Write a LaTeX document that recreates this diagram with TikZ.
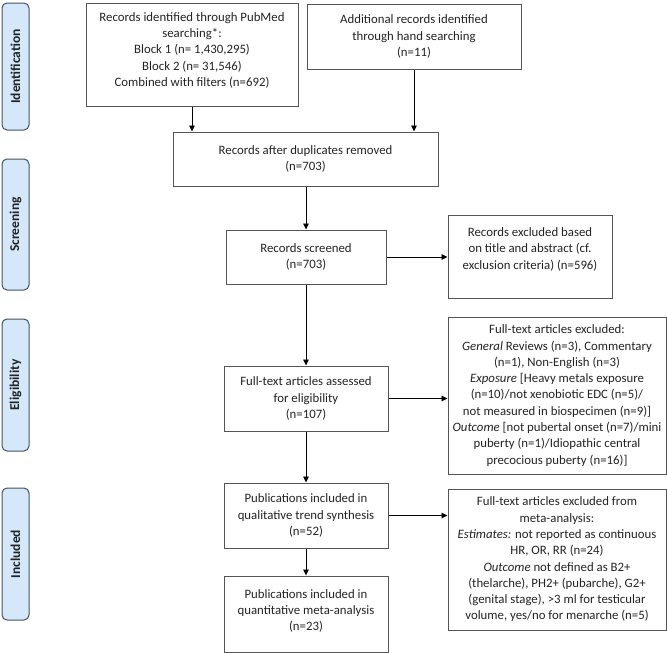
\documentclass[tikz,border=0pt]{standalone}
\usepackage{fontspec}
\setmainfont{Carlito}
\usetikzlibrary{arrows.meta}
\definecolor{boxline}{RGB}{85,85,85}
\definecolor{tabfill}{RGB}{212,232,250}
\definecolor{tabline}{RGB}{70,80,95}
\definecolor{txt}{RGB}{35,35,35}
\begin{document}
\begin{tikzpicture}[x=1pt,y=-1pt,
 box/.style={draw=boxline,line width=1pt,align=center,inner sep=0pt,font=\fontsize{12.8}{16.3}\selectfont,text=txt},
 tab/.style={draw=tabline,fill=tabfill,rounded corners=5pt,line width=1pt,minimum height=27pt,rotate=90,font=\bfseries\fontsize{13.5}{15}\selectfont,inner sep=0pt,text=txt},
 arr/.style={-{Triangle[length=6pt,width=5.5pt]},line width=0.9pt,black}]
\useasboundingbox (0,0) rectangle (667,653);
\node[tab,minimum width=127pt] (idtab) at (15.5,66.5) {Identification};
\node[tab,minimum width=131pt] (sctab) at (15.5,224.5) {Screening};
\node[tab,minimum width=132pt] (eltab) at (15.5,385) {Eligibility};
\node[tab,minimum width=132pt] (intab) at (15.5,554) {Included};

\node[box,minimum width=212pt,minimum height=103pt] (b1) at (192,54.5) {Records identified through PubMed\\searching*:\\Block 1 (n= 1,430,295)\\Block 2 (n= 31,546)\\Combined with filters (n=692)\\[-6pt]\mbox{}};
\node[box,minimum width=214pt,minimum height=65pt] (b2) at (414,36.5) {Additional records identified\\through hand searching\\(n=11)};
\node[box,minimum width=265pt,minimum height=54pt] (dup) at (305.5,159) {Records after duplicates removed\\(n=703)};
\node[box,minimum width=160pt,minimum height=54pt] (scr) at (306,257) {Records screened\\(n=703)};
\node[box,minimum width=164pt,minimum height=83pt] (ex1) at (530,256.5) {Records excluded based\\on title and abstract (cf.\\exclusion criteria) (n=596)\\~};
\node[box,minimum width=164pt,minimum height=65pt] (ft) at (306,398.5) {Full-text articles assessed\\for eligibility\\(n=107)};
\node[box,minimum width=218pt,minimum height=157pt] (ex2) at (557,395.5) {Full-text articles excluded:\\\textit{General} Reviews (n=3), Commentary\\(n=1), Non-English (n=3)\\\textit{Exposure} [Heavy metals exposure\\(n=10)/not xenobiotic EDC (n=5)/\\not measured in biospecimen (n=9)]\\\textit{Outcome} [not pubertal onset (n=7)/mini\\puberty (n=1)/Idiopathic central\\precocious puberty (n=16)]};
\node[box,minimum width=164pt,minimum height=65pt] (qual) at (306,515.5) {Publications included in\\qualitative trend synthesis\\(n=52)};
\node[box,minimum width=164pt,minimum height=76pt] (quant) at (306,614) {Publications included in\\quantitative meta-analysis\\(n=23)\\[-8pt]\mbox{}};
\node[box,minimum width=218pt,minimum height=141pt] (ex3) at (557,559.5) {Full-text articles excluded from\\meta-analysis:\\\textit{Estimates:} not reported as continuous\\HR, OR, RR (n=24)\\\textit{Outcome} not defined as B2+\\(thelarche), PH2+ (pubarche), G2+\\(genital stage), >3 ml for testicular\\volume, yes/no for menarche (n=5)};

\draw[arr] (b1.south) -- (b1.south |- dup.north);
\draw[arr] (b2.south) -- (b2.south |- dup.north);
\draw[arr] (scr.north |- dup.south) -- (scr.north);
\draw[arr] (scr.east) -- (scr.east -| ex1.west);
\draw[arr] (scr.south) -- (ft.north);
\draw[arr] (ft.east) -- (ft.east -| ex2.west);
\draw[arr] (ft.south) -- (qual.north);
\draw[arr] (qual.east) -- (qual.east -| ex3.west);
\draw[arr] (qual.south) -- (quant.north);
\end{tikzpicture}
\end{document}
